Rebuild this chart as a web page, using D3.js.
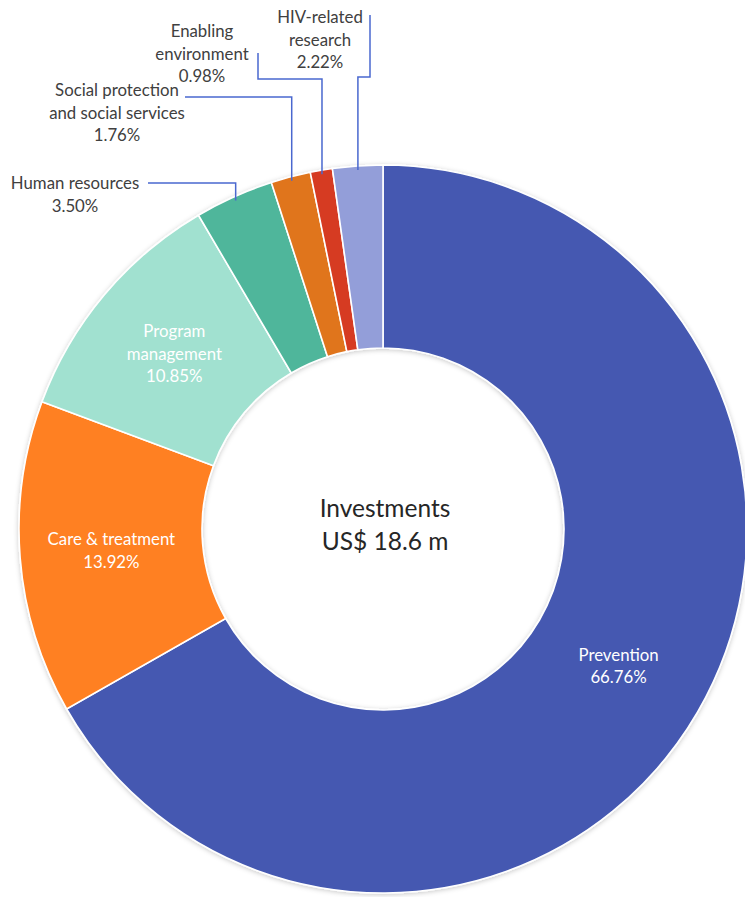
<!DOCTYPE html>
<html>
<head>
<meta charset="utf-8">
<script src="https://cdn.jsdelivr.net/npm/d3@7"></script>
<style>
  html, body { margin: 0; padding: 0; background: #fff; }
  svg { display: block; font-family: Lato, "Open Sans", sans-serif; }
</style>
</head>
<body>
<svg id="chart" width="745" height="897"></svg>
<script>
// Investment breakdown by area (percent of total)
const categories = [
  "Prevention",
  "Care & treatment",
  "Program management",
  "Human resources",
  "Social protection and social services",
  "Enabling environment",
  "HIV-related research"
];
const shares = [66.76, 13.92, 10.85, 3.50, 1.76, 0.98, 2.22];
const labelLines = [
  ["Prevention"],
  ["Care & treatment"],
  ["Program", "management"],
  ["Human resources"],
  ["Social protection", "and social services"],
  ["Enabling", "environment"],
  ["HIV-related", "research"]
];
const colors = ["#4459B1", "#FF8021", "#A1E1D0", "#50B69B", "#E0741F", "#D63A21", "#939ED9"];
const centerTitle = ["Investments", "US$ 18.6 m"];

const svg = d3.select("#chart");
const cx = 383, cy = 529, outerR = 364, innerR = 181;

const defs = svg.append("defs");
const shadow = defs.append("filter").attr("id", "soft-shadow")
  .attr("x", "-10%").attr("y", "-10%").attr("width", "120%").attr("height", "120%");
shadow.append("feDropShadow")
  .attr("dx", 0).attr("dy", 1).attr("stdDeviation", 2.5)
  .attr("flood-color", "#000").attr("flood-opacity", 0.22);

const g = svg.append("g").attr("transform", `translate(${cx},${cy})`);

const data = categories.map((c, i) => ({ name: c, value: shares[i], lines: labelLines[i], color: colors[i] }));
const pie = d3.pie().value(d => d.value).sort(null).startAngle(0).endAngle(2 * Math.PI);
const arcs = pie(data);
const arc = d3.arc().innerRadius(innerR).outerRadius(outerR);
const labelArc = d3.arc().innerRadius((innerR + outerR) / 2).outerRadius((innerR + outerR) / 2);

// ring with a faint shadow behind it
g.append("g").attr("filter", "url(#soft-shadow)")
  .selectAll("path").data(arcs).join("path")
  .attr("d", arc)
  .attr("fill", d => d.data.color)
  .attr("stroke", "#fff")
  .attr("stroke-width", 1.6);

const fmt = v => v.toFixed(2) + "%";
const lineH = 22.6;
const labelSize = 16.8;

// labels that sit inside the larger slices
arcs.slice(0, 3).forEach(d => {
  const [x, y] = labelArc.centroid(d);
  const rows = d.data.lines.concat([fmt(d.data.value)]);
  const t = g.append("text").attr("text-anchor", "middle").attr("fill", "#fff")
    .attr("font-size", labelSize);
  rows.forEach((r, k) => {
    t.append("tspan").attr("x", x)
      .attr("y", y + (k - (rows.length - 1) / 2) * lineH + 6)
      .text(r);
  });
});

// call-out labels for the thin slices, with elbow leader lines
const callouts = {
  3: { tx: 75,  ty: 189, route: p => [p, [p[0], 183], [148, 183]] },
  4: { tx: 117, ty: 96,  route: p => [p, [p[0], 97], [185, 97]] },
  5: { tx: 202, ty: 37,  route: p => [p, [p[0], 79], [258, 79], [258, 53]] },
  6: { tx: 320, ty: 23,  route: p => [p, [p[0], 77], [370, 77], [370, 15]] }
};
const edgeArc = d3.arc().innerRadius(outerR - 4).outerRadius(outerR - 4);
const calloutLayer = svg.append("g");
Object.entries(callouts).forEach(([i, c]) => {
  const d = arcs[+i];
  const [ex, ey] = edgeArc.centroid(d);
  const p = [ex + cx, ey + cy];
  calloutLayer.append("path")
    .attr("d", d3.line()(c.route(p)))
    .attr("fill", "none")
    .attr("stroke", "#4A68CF")
    .attr("stroke-width", 1.5);
  const rows = d.data.lines.concat([fmt(d.data.value)]);
  const t = calloutLayer.append("text").attr("text-anchor", "middle").attr("fill", "#404040")
    .attr("font-size", labelSize);
  rows.forEach((r, k) => {
    t.append("tspan").attr("x", c.tx).attr("y", c.ty + k * lineH).text(r);
  });
});

// centre title
const ct = g.append("text").attr("text-anchor", "middle").attr("fill", "#262626")
  .attr("font-size", 24.5);
centerTitle.forEach((r, k) => {
  ct.append("tspan").attr("x", 2).attr("y", -12 + k * 33).text(r);
});
</script>
</body>
</html>
